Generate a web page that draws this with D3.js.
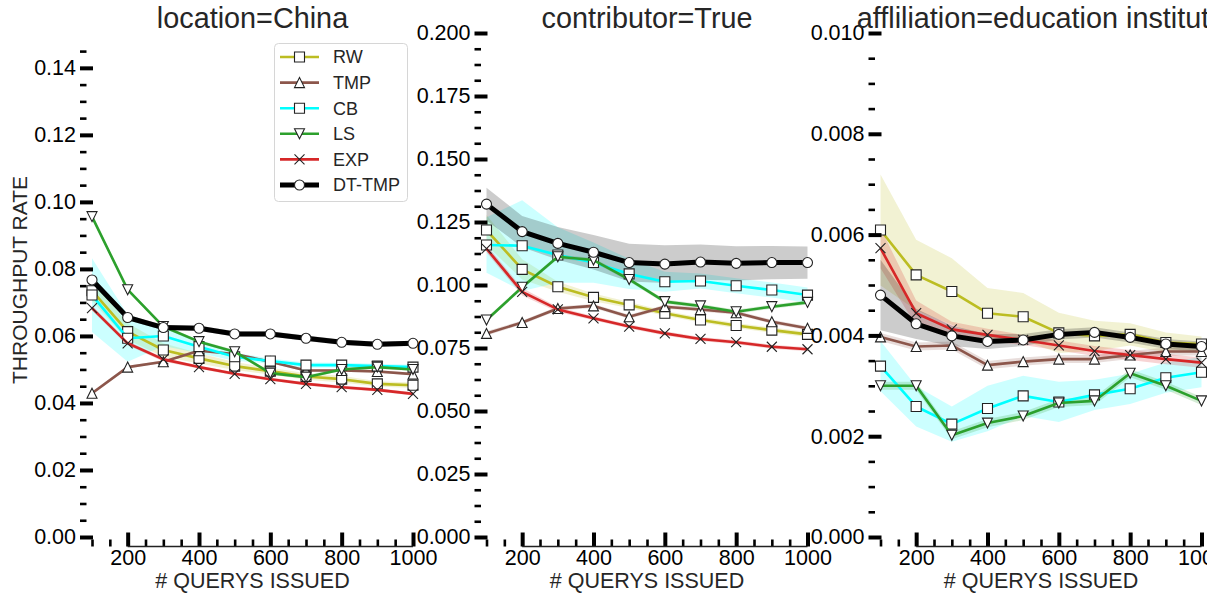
<!DOCTYPE html>
<html><head><meta charset="utf-8">
<script src="https://cdn.jsdelivr.net/npm/d3@7"></script>
<style>body{margin:0;background:#fff} svg{display:block} text{font-family:"Liberation Sans",Arial,sans-serif}</style>
</head><body><svg id="c" width="1220" height="594"></svg>
<script>
const queries = [100, 200, 300, 400, 500, 600, 700, 800, 900, 1000];
const xTickValues = [200, 400, 600, 800, 1000];
const seriesNames = ["RW", "TMP", "CB", "LS", "EXP", "DT-TMP"];
const seriesColors = ["#bcbd22", "#8c564b", "#00ffff", "#2ca02c", "#d62728", "#000000"];
const seriesMarkers = ["square", "triUp", "square", "triDown", "x", "circle"];
const panelTitles = ["location=China", "contributor=True", "affliliation=education institute"];
const yDomainMax = [0.1504, 0.2, 0.01];
const yMinorMax = [0.145, 0.2, 0.01];
const yMajorStep = [0.02, 0.025, 0.002];
const yTickFormat = [".2f", ".3f", ".3f"];

// location=China
const chinaMean = [
  [0.0735, 0.0613, 0.0558, 0.0533, 0.0510, 0.0495, 0.0479, 0.0471, 0.0457, 0.0453],
  [0.0429, 0.0507, 0.0523, 0.0556, 0.0546, 0.0523, 0.0497, 0.0497, 0.0494, 0.0486],
  [0.0722, 0.0593, 0.0600, 0.0568, 0.0538, 0.0525, 0.0513, 0.0513, 0.0510, 0.0507],
  [0.0956, 0.0738, 0.0628, 0.0583, 0.0553, 0.0489, 0.0477, 0.0500, 0.0507, 0.0500],
  [0.0683, 0.0578, 0.0530, 0.0507, 0.0487, 0.0471, 0.0457, 0.0447, 0.0439, 0.0427],
  [0.0767, 0.0655, 0.0625, 0.0623, 0.0606, 0.0606, 0.0593, 0.0581, 0.0575, 0.0578]
];
const chinaErr = [
  [0.0030, 0.0025, 0.0020, 0.0015, 0.0012, 0.0010, 0.0010, 0.0010, 0.0008, 0.0008],
  [0.0005, 0.0004, 0.0004, 0.0004, 0.0004, 0.0004, 0.0004, 0.0004, 0.0004, 0.0004],
  [0.0110, 0.0070, 0.0030, 0.0020, 0.0012, 0.0008, 0.0008, 0.0007, 0.0007, 0.0007],
  [0.0006, 0.0005, 0.0005, 0.0005, 0.0005, 0.0005, 0.0005, 0.0005, 0.0005, 0.0005],
  [0.0007, 0.0006, 0.0006, 0.0005, 0.0005, 0.0005, 0.0005, 0.0005, 0.0005, 0.0005],
  [0.0009, 0.0008, 0.0008, 0.0008, 0.0008, 0.0008, 0.0008, 0.0008, 0.0008, 0.0008]
];
// contributor=True
const contribMean = [
  [0.1218, 0.1062, 0.0993, 0.0951, 0.0921, 0.0888, 0.0861, 0.0839, 0.0821, 0.0804],
  [0.0808, 0.0851, 0.0907, 0.0917, 0.0874, 0.0914, 0.0903, 0.0890, 0.0854, 0.0828],
  [0.1159, 0.1156, 0.1119, 0.1089, 0.1044, 0.1013, 0.1016, 0.0997, 0.0980, 0.0960],
  [0.0861, 0.0991, 0.1112, 0.1099, 0.1022, 0.0934, 0.0917, 0.0894, 0.0914, 0.0931],
  [0.1144, 0.0973, 0.0903, 0.0868, 0.0835, 0.0808, 0.0786, 0.0773, 0.0755, 0.0745],
  [0.1321, 0.1212, 0.1165, 0.1130, 0.1089, 0.1083, 0.1091, 0.1086, 0.1089, 0.1089]
];
const contribErr = [
  [0.0060, 0.0040, 0.0020, 0.0015, 0.0012, 0.0010, 0.0010, 0.0010, 0.0010, 0.0010],
  [0.0008, 0.0008, 0.0008, 0.0008, 0.0008, 0.0008, 0.0008, 0.0008, 0.0008, 0.0008],
  [0.0110, 0.0180, 0.0110, 0.0080, 0.0060, 0.0040, 0.0030, 0.0030, 0.0030, 0.0030],
  [0.0008, 0.0008, 0.0008, 0.0008, 0.0008, 0.0008, 0.0008, 0.0008, 0.0008, 0.0008],
  [0.0015, 0.0015, 0.0010, 0.0008, 0.0008, 0.0008, 0.0008, 0.0008, 0.0008, 0.0008],
  [0.0065, 0.0062, 0.0065, 0.0068, 0.0075, 0.0075, 0.0070, 0.0068, 0.0066, 0.0064]
];
// affiliation=education institute
const affilMean = [
  [0.00609, 0.00520, 0.00487, 0.00444, 0.00437, 0.00405, 0.00399, 0.00402, 0.00386, 0.00383],
  [0.00397, 0.00378, 0.00380, 0.00341, 0.00348, 0.00353, 0.00353, 0.00361, 0.00368, 0.00368],
  [0.00339, 0.00259, 0.00224, 0.00255, 0.00280, 0.00268, 0.00282, 0.00294, 0.00316, 0.00327],
  [0.00300, 0.00300, 0.00202, 0.00226, 0.00240, 0.00266, 0.00270, 0.00325, 0.00300, 0.00270],
  [0.00573, 0.00444, 0.00412, 0.00401, 0.00391, 0.00380, 0.00369, 0.00361, 0.00353, 0.00346],
  [0.00480, 0.00423, 0.00399, 0.00388, 0.00391, 0.00402, 0.00406, 0.00396, 0.00383, 0.00378]
];
const affilErr = [
  [0.00110, 0.00070, 0.00066, 0.00050, 0.00047, 0.00040, 0.00030, 0.00022, 0.00020, 0.00015],
  [0.00008, 0.00008, 0.00008, 0.00008, 0.00008, 0.00008, 0.00008, 0.00008, 0.00008, 0.00008],
  [0.00050, 0.00040, 0.00035, 0.00045, 0.00040, 0.00040, 0.00030, 0.00030, 0.00030, 0.00030],
  [0.00008, 0.00008, 0.00008, 0.00008, 0.00008, 0.00008, 0.00008, 0.00008, 0.00008, 0.00008],
  [0.00040, 0.00025, 0.00015, 0.00012, 0.00010, 0.00010, 0.00010, 0.00010, 0.00010, 0.00010],
  [0.00070, 0.00030, 0.00020, 0.00015, 0.00012, 0.00010, 0.00010, 0.00010, 0.00010, 0.00010]
];

const panelMeans = [chinaMean, contribMean, affilMean];
const panelErrs = [chinaErr, contribErr, affilErr];

const svg = d3.select("#c");
svg.append("defs").append("clipPath").attr("id", "figclip")
  .append("rect").attr("x", 0).attr("y", 0).attr("width", 1207).attr("height", 594);
const root = svg.append("g").attr("clip-path", "url(#figclip)");

const plotLefts = [92, 486.5, 880.5];
const plotW = 321;
const yTop = 33, yBottom = 537;
const xAxisY = 546.5;
const axisOffset = 12;
const TEXT = "#262626";
const MS = 10;

function markerPath(type, s) {
  const h = s / 2;
  switch (type) {
    case "square": return `M${-h},${-h}h${s}v${s}h${-s}Z`;
    case "triUp": return `M0,${-h}L${h},${h}L${-h},${h}Z`;
    case "triDown": return `M0,${h}L${h},${-h}L${-h},${-h}Z`;
    case "x": return `M${-h},${-h}L${h},${h}M${-h},${h}L${h},${-h}`;
    case "circle": return d3.symbol(d3.symbolCircle, Math.PI * h * h)();
  }
}
function drawMarker(g, type, cx, cy) {
  const p = g.append("path").attr("d", markerPath(type, MS))
    .attr("transform", `translate(${cx},${cy})`);
  if (type === "x") p.attr("fill", "none").attr("stroke", "#222").attr("stroke-width", 1.1);
  else p.attr("fill", "#fff").attr("stroke", "#222").attr("stroke-width", 1.1);
}

panelTitles.forEach((title, p) => {
  const g = root.append("g");
  const x = d3.scaleLinear().domain([100, 1000]).range([plotLefts[p], plotLefts[p] + plotW]);
  const y = d3.scaleLinear().domain([0, yDomainMax[p]]).range([yBottom, yTop]);
  const means = panelMeans[p], errs = panelErrs[p];

  // bands (below all lines)
  const bandG = g.append("g");
  seriesNames.forEach((name, s) => {
    const area = d3.area()
      .x((d, i) => x(queries[i]))
      .y0((d, i) => y(means[s][i] - errs[s][i]))
      .y1((d, i) => y(means[s][i] + errs[s][i]));
    bandG.append("path").attr("d", area(queries))
      .attr("fill", seriesColors[s]).attr("fill-opacity", 0.2).attr("stroke", "none");
  });

  // lines + markers
  seriesNames.forEach((name, s) => {
    const line = d3.line().x((d, i) => x(queries[i])).y((d, i) => y(means[s][i]));
    g.append("path").attr("d", line(queries)).attr("fill", "none")
      .attr("stroke", seriesColors[s]).attr("stroke-width", name === "DT-TMP" ? 5 : 2.6)
      .attr("stroke-linejoin", "round");
    const mg = g.append("g");
    queries.forEach((q, i) => drawMarker(mg, seriesMarkers[s], x(q), y(means[s][i])));
  });

  // y axis (ticks pointing inward, no spine)
  const axX = plotLefts[p] - axisOffset;
  const step = yMajorStep[p];
  const nMaj = Math.floor(yDomainMax[p] / step + 1e-6);
  const majors = d3.range(0, nMaj + 1).map(k => +(k * step).toFixed(6));
  const nMin = Math.floor(yMinorMax[p] / (step / 4) + 1e-6);
  const minors = d3.range(0, nMin + 1).filter(k => k % 4 !== 0).map(k => k * step / 4);
  const yAxMinor = g.append("g").attr("transform", `translate(${axX},0)`)
    .call(d3.axisLeft(y).tickValues(minors).tickSizeInner(-6.5).tickSizeOuter(0).tickFormat(""));
  yAxMinor.select(".domain").remove();
  yAxMinor.selectAll("line").attr("stroke", "#000").attr("stroke-width", 2.6);
  const yAx = g.append("g").attr("transform", `translate(${axX},0)`)
    .call(d3.axisLeft(y).tickValues(majors).tickSizeInner(-13).tickSizeOuter(0)
      .tickPadding(4).tickFormat(d3.format(yTickFormat[p])));
  yAx.select(".domain").remove();
  yAx.selectAll("line").attr("stroke", "#000").attr("stroke-width", 4);
  yAx.selectAll("text").attr("font-size", 21.5).attr("fill", "#000")
    .attr("font-family", "Liberation Sans, Arial, sans-serif");

  // x axis (trimmed spine, inward ticks)
  const xMinors = d3.range(100, 1001, 50).filter(v => v % 200 !== 0);
  const xAxMinor = g.append("g").attr("transform", `translate(0,${xAxisY})`)
    .call(d3.axisBottom(x).tickValues(xMinors).tickSizeInner(-7).tickSizeOuter(0).tickFormat(""));
  xAxMinor.select(".domain").remove();
  xAxMinor.selectAll("line").attr("stroke", "#000").attr("stroke-width", 2.6);
  const xAx = g.append("g").attr("transform", `translate(0,${xAxisY})`)
    .call(d3.axisBottom(x).tickValues(xTickValues).tickSizeInner(-14).tickSizeOuter(0)
      .tickPadding(3.5).tickFormat(d3.format("d")));
  xAx.select(".domain").remove();
  xAx.selectAll("line").attr("stroke", "#000").attr("stroke-width", 4);
  xAx.selectAll("text").attr("font-size", 21.5).attr("fill", "#000")
    .attr("font-family", "Liberation Sans, Arial, sans-serif");
  g.append("line").attr("x1", x(200)).attr("x2", x(1000)).attr("y1", xAxisY).attr("y2", xAxisY)
    .attr("stroke", "#222").attr("stroke-width", 1.6);

  g.append("text").attr("x", x(550)).attr("y", 588).attr("text-anchor", "middle")
    .attr("font-size", 21.5).attr("fill", TEXT).text("# QUERYS ISSUED");
  g.append("text").attr("x", x(550)).attr("y", 28).attr("text-anchor", "middle")
    .attr("font-size", 28.8).attr("fill", TEXT).text(title);

  if (p === 0) {
    g.append("text").attr("transform", `translate(27,280) rotate(-90)`)
      .attr("text-anchor", "middle").attr("font-size", 21).attr("fill", TEXT)
      .text("THROUGHPUT RATE");
    // legend
    const lg = g.append("g");
    lg.append("rect").attr("x", 274.5).attr("y", 43.5).attr("width", 133).attr("height", 158)
      .attr("rx", 4).attr("fill", "#fff").attr("fill-opacity", 0.85)
      .attr("stroke", "#d6d6d6").attr("stroke-width", 1);
    seriesNames.forEach((name, s) => {
      const cy = 57 + s * 25.6;
      lg.append("line").attr("x1", 280).attr("x2", 319).attr("y1", cy).attr("y2", cy)
        .attr("stroke", seriesColors[s]).attr("stroke-width", name === "DT-TMP" ? 5 : 2.6);
      drawMarker(lg, seriesMarkers[s], 299.5, cy);
      lg.append("text").attr("x", 333).attr("y", cy).attr("dy", "0.35em")
        .attr("font-size", 18).attr("fill", TEXT).text(name);
    });
  }
});
</script></body></html>
